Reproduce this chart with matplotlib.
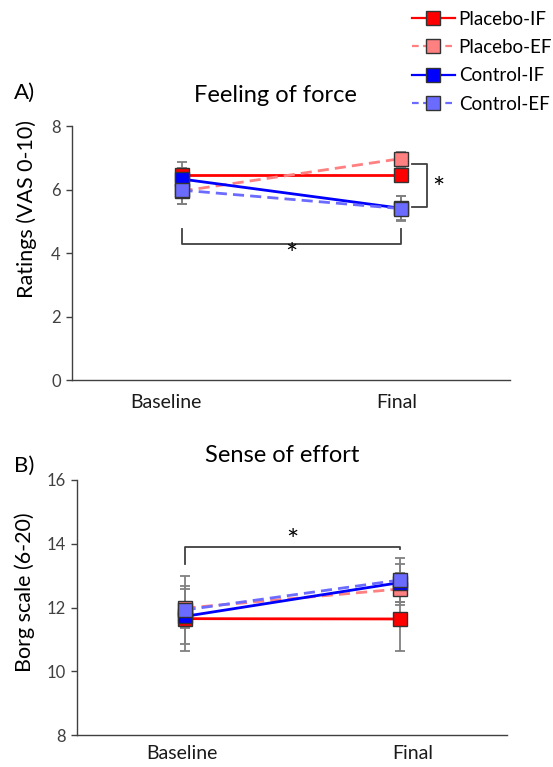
import matplotlib
matplotlib.use("Agg")
import matplotlib.pyplot as plt
from matplotlib.lines import Line2D

plt.rcParams['font.family'] = ['Lato', 'DejaVu Sans']

categories = ["Baseline", "Final"]
series_names = ["Placebo-IF", "Placebo-EF", "Control-IF", "Control-EF"]

# Panel A: Feeling of force (VAS 0-10)
force_placebo_if = [6.47, 6.47]
force_placebo_ef = [5.95, 6.97]
force_control_if = [6.33, 5.41]
force_control_ef = [5.98, 5.40]
force_err_placebo_if = [0.40, 0.20]
force_err_placebo_ef = [0.40, 0.20]
force_err_control_if = [0.35, 0.38]
force_err_control_ef = [0.45, 0.40]

# Panel B: Sense of effort (Borg 6-20)
effort_placebo_if = [11.65, 11.64]
effort_placebo_ef = [11.98, 12.58]
effort_control_if = [11.72, 12.78]
effort_control_ef = [11.92, 12.86]
effort_err_placebo_if = [1.02, 1.01]
effort_err_placebo_ef = [0.60, 0.50]
effort_err_control_if = [0.37, 0.60]
effort_err_control_ef = [1.08, 0.70]

styles = [
    dict(color="#FF0000", ls="-", mfc="#FF0000"),
    dict(color="#FF8080", ls="--", mfc="#FF8080"),
    dict(color="#0000FF", ls="-", mfc="#0000FF"),
    dict(color="#6B6BFF", ls="--", mfc="#6B6BFF"),
]

fig = plt.figure(figsize=(5.53, 7.67), dpi=100)
W, H = 553, 767

def axes_px(l, r, top, bot):
    return fig.add_axes([l / W, 1 - bot / H, (r - l) / W, (bot - top) / H])

axA = axes_px(72, 510, 126, 380)
axB = axes_px(77, 507, 480, 735)

def draw(ax, vals, errs, label_offsets, label_dy):
    x = list(range(len(categories)))
    for v, e in zip(vals, errs):
        ax.errorbar(x, v, yerr=e, fmt='none', ecolor='#808080', elinewidth=1.3,
                    capsize=3.5, capthick=1.3, zorder=2)
    for i, (v, st) in enumerate(zip(vals, styles)):
        ax.plot(x, v, color=st["color"], ls=st["ls"], lw=2.0,
                dashes=(4, 2.2) if st["ls"] == "--" else (None, None),
                marker='s', markersize=10, mfc=st["mfc"], mec='#333333', mew=1.0,
                zorder=3 + i)
    ax.set_xlim(-0.5, 1.5)
    ax.set_xticks(x)
    ax.set_xticklabels([])
    for xi, cat, dx in zip(x, categories, label_offsets):
        ax.annotate(cat, xy=(xi, 0), xycoords=('data', 'axes fraction'),
                    xytext=(dx, label_dy), textcoords='offset points',
                    ha='center', va='center', fontsize=14, color='#1a1a1a')
    ax.tick_params(axis='x', length=0)
    ax.tick_params(axis='y', length=4, width=1, color='#404040', labelsize=12,
                   labelcolor='#404040', direction='out', pad=4)
    for s in ["top", "right"]:
        ax.spines[s].set_visible(False)
    for s in ["left", "bottom"]:
        ax.spines[s].set_color('#404040')
        ax.spines[s].set_linewidth(1.0)

draw(axA, [force_placebo_if, force_placebo_ef, force_control_if, force_control_ef],
     [force_err_placebo_if, force_err_placebo_ef, force_err_control_if, force_err_control_ef],
     [-11.5, -3], -16)
axA.set_ylim(0, 8)
axA.set_yticks([0, 2, 4, 6, 8])

draw(axB, [effort_placebo_if, effort_placebo_ef, effort_control_if, effort_control_ef],
     [effort_err_placebo_if, effort_err_placebo_ef, effort_err_control_if, effort_err_control_ef],
     [-2, 9.7], -13.5)
axB.set_ylim(8, 16)
axB.set_yticks([8, 10, 12, 14, 16])

bc = '#404040'
# Panel A brackets
axA.plot([0, 0, 1, 1], [4.76, 4.28, 4.28, 4.76], color=bc, lw=1.3, clip_on=False)
axA.text(0.5, 3.9, "*", ha='center', va='center', fontsize=21)
axA.plot([1.052, 1.121, 1.121, 1.052], [6.8, 6.8, 5.45, 5.45], color=bc, lw=1.3, clip_on=False)
axA.text(1.175, 6.0, "*", ha='center', va='center', fontsize=21)
# Panel B bracket
axB.plot([0, 0, 1, 1], [13.36, 13.9, 13.9, 13.82], color=bc, lw=1.3, clip_on=False)
axB.text(0.5, 14.05, "*", ha='center', va='center', fontsize=21)

# Titles
fig.text(275 / W, 1 - 95 / H, "Feeling of force", ha='center', va='center', fontsize=17)
fig.text(282 / W, 1 - 455 / H, "Sense of effort", ha='center', va='center', fontsize=17)
fig.text(14 / W, 1 - 93 / H, "A)", ha='left', va='center', fontsize=16)
fig.text(14 / W, 1 - 466 / H, "B)", ha='left', va='center', fontsize=16)

# y labels
fig.text(27 / W, 1 - 209 / H, "Ratings (VAS 0-10)", ha='center', va='center',
         rotation=90, fontsize=15.5)
fig.text(25 / W, 1 - 592 / H, "Borg scale (6-20)", ha='center', va='center',
         rotation=90, fontsize=15.5)

# Legend
handles = []
for name, st in zip(series_names, styles):
    handles.append(Line2D([0], [0], color=st["color"], ls=st["ls"], lw=1.6,
                          dashes=(3, 2) if st["ls"] == "--" else (None, None),
                          marker='s', markersize=10, mfc=st["mfc"], mec='#333333', mew=1.0,
                          label=name))
fig.legend(handles=handles, loc='upper left', bbox_to_anchor=(408 / W, 1 - 7 / H),
           frameon=False, fontsize=13.5, handlelength=2.3, handletextpad=0.2,
           labelspacing=0.6, borderaxespad=0, borderpad=0.2)

fig.savefig("out.png", dpi=100)
